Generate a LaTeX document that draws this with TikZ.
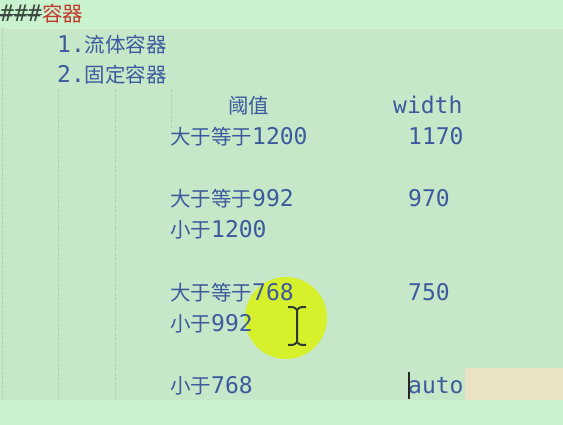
\documentclass[tikz,border=0pt]{standalone}
\usepackage{fontspec}
\setmonofont{DejaVu Sans Mono}
\newfontfamily\cjk{Noto Sans CJK SC}
\newcommand\zh[1]{{\fontsize{20.5}{20.5}\cjk #1}}
\definecolor{editorbg}{HTML}{C6E8C8}
\definecolor{editorhi}{HTML}{CAF2CE}
\definecolor{codeblue}{HTML}{3D5A9E}
\definecolor{headred}{HTML}{C0392B}
\definecolor{hashgrey}{HTML}{3A4A40}
\definecolor{guidegrey}{HTML}{A2C2A4}
\definecolor{selpeach}{HTML}{ECE2C6}
\definecolor{spotyellow}{HTML}{D6F02C}
\begin{document}
\begin{tikzpicture}[x=1pt,y=1pt,
   code/.style={anchor=base west,inner sep=0pt,text=codeblue,
     font=\fontsize{23}{23}\ttfamily},
   guide/.style={guidegrey,line width=0.8pt,dash pattern=on 1pt off 1.5pt}]
\useasboundingbox (0,0) rectangle (563,-425);
\fill[editorbg] (0,0) rectangle (563,-425);
\fill[editorhi] (0,0) rectangle (563,-29);
\fill[editorhi] (0,-400) rectangle (563,-425);
% indent guides
\draw[guide] (2,-28) -- (2,-400);
\draw[guide] (58,-90) -- (58,-400);
\draw[guide] (115,-90) -- (115,-400);
\draw[guide] (171,-90) -- (171,-128);
\fill[selpeach] (465,-368) rectangle (563,-400);
\fill[spotyellow] (286,-318) circle (41);
% heading and list
\node[code,text=hashgrey] (hash) at (0,-22) {\#\#\#};
\node[code,text=headred] (head) at (hash.base east) {\zh{容器}};
\draw[hashgrey,line width=1pt] (0,-15) -- (42,-15);
\node[code] (fluid) at (57,-53) {1.\zh{流体容器}};
\node[code] (fixed) at (57,-83) {2.\zh{固定容器}};
% table
\node[code] (thres) at (228,-114) {\zh{阈值}};
\node[code] (width) at (393,-114) {width};
\node[code] (ge1200) at (170,-145) {\zh{大于等于}1200};
\node[code] (w1170) at (408,-145) {1170};
\node[code] (ge992) at (170,-207) {\zh{大于等于}992};
\node[code] (w970) at (408,-207) {970};
\node[code] (lt1200) at (170,-238) {\zh{小于}1200};
\node[code] (ge768) at (170,-300) {\zh{大于等于}768};
\node[code] (w750) at (408,-300) {750};
\node[code] (lt992) at (170,-331) {\zh{小于}992};
\node[code] (lt768) at (170,-393) {\zh{小于}768};
\node[code] (wauto) at (408,-393) {auto};
% text cursor and mouse pointer
\draw[black!85,line width=2pt] (409,-372) -- (409,-399);
\draw[hashgrey!80!black,line width=2pt] (297,-309) -- (297,-343)
  (288,-307) .. controls (294,-307) .. (297,-310) .. controls (300,-307) .. (306,-307)
  (288,-345) .. controls (294,-345) .. (297,-342) .. controls (300,-345) .. (306,-345);
\end{tikzpicture}
\end{document}
